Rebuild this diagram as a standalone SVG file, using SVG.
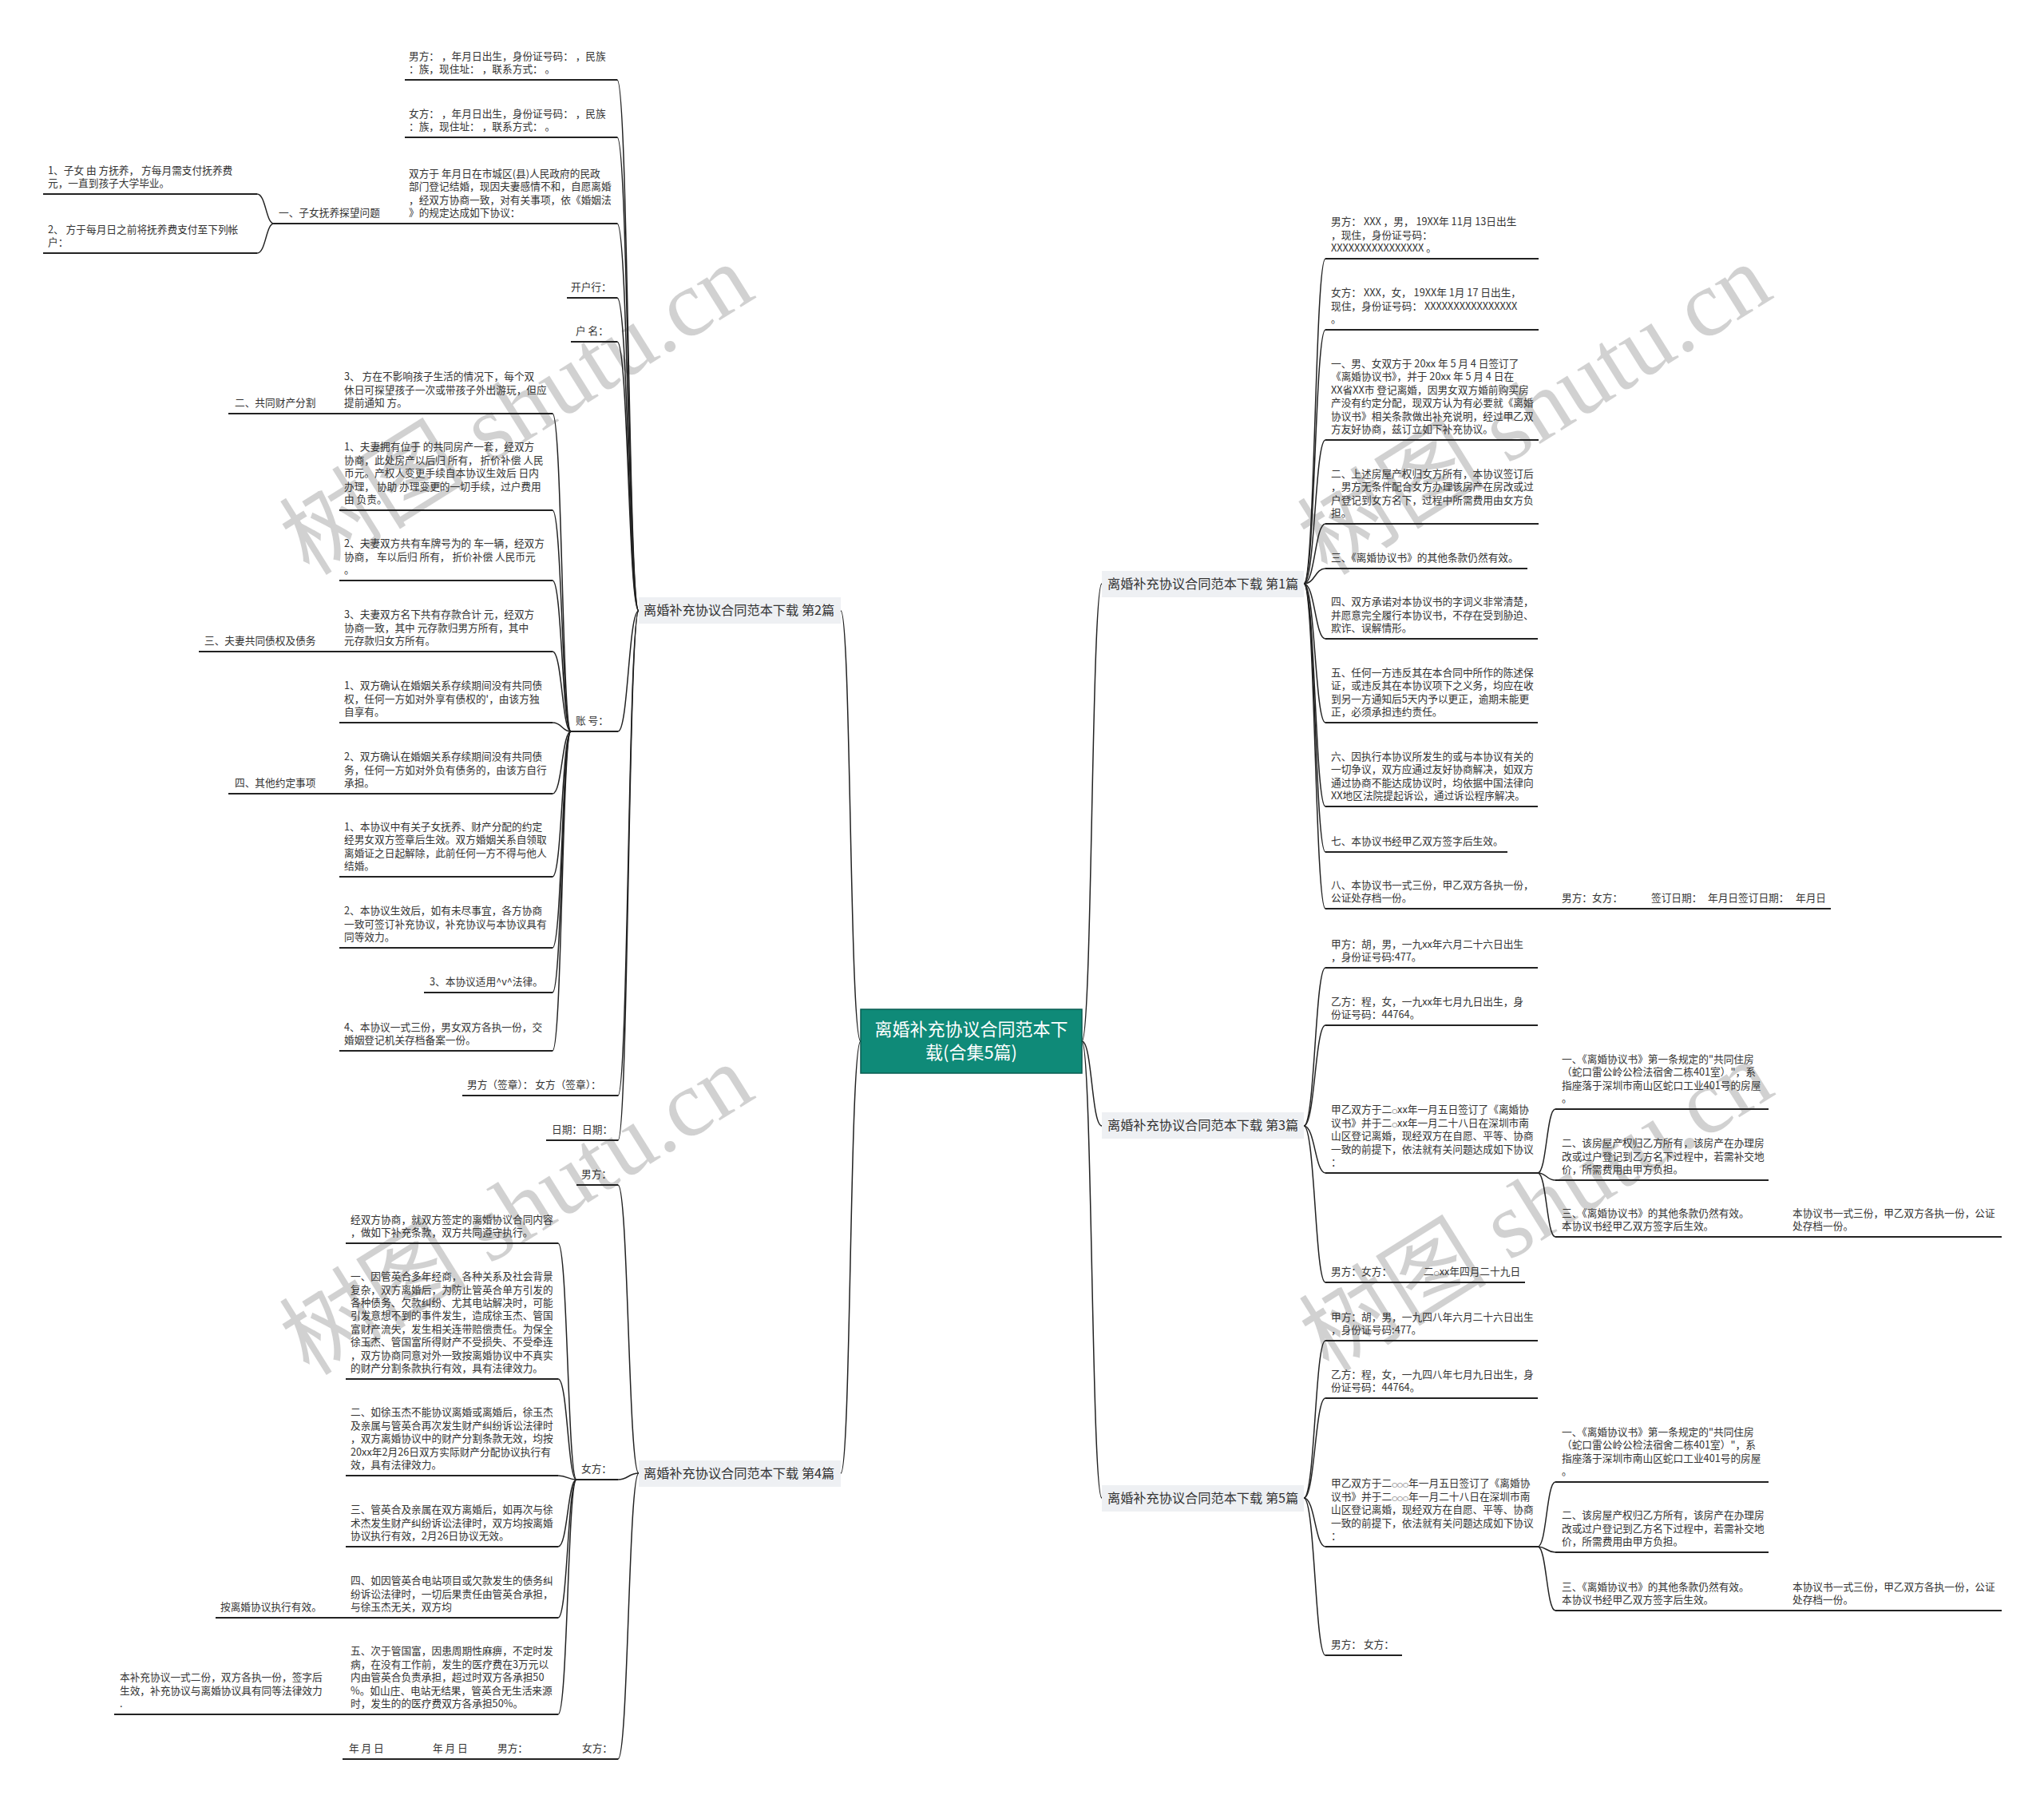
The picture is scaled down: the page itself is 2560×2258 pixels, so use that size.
<svg xmlns="http://www.w3.org/2000/svg" width="2560" height="2258" viewBox="0 0 2560 2258" xml:space="preserve">
<style>
.t{font-family:"Noto Sans CJK SC","Noto Sans",sans-serif;font-size:12.7px;fill:#333;}
.o{font-family:"DejaVu Sans",sans-serif;font-size:8px;}
.ul{stroke:#222;stroke-width:2;fill:none;}
.c{stroke:#222;stroke-width:1.5;fill:none;}
.lb{fill:#eef0f3;}
.lt{font-family:"Noto Sans CJK SC","Noto Sans",sans-serif;font-size:16.2px;fill:#333;}
.wm{font-family:"Liberation Serif","Noto Sans CJK SC",serif;font-size:118px;fill:#000;fill-opacity:0.18;}
</style>
<rect x="0" y="0" width="2560" height="2258" fill="#ffffff"/>
<g id="watermarks">
<text class="wm" x="647" y="553" text-anchor="middle" transform="rotate(-32 647 513)">树图 shutu.cn</text>
<text class="wm" x="1922" y="553" text-anchor="middle" transform="rotate(-32 1922 513)">树图 shutu.cn</text>
<text class="wm" x="647" y="1555" text-anchor="middle" transform="rotate(-32 647 1515)">树图 shutu.cn</text>
<text class="wm" x="1924" y="1551" text-anchor="middle" transform="rotate(-32 1924 1511)">树图 shutu.cn</text>
</g>
<g id="connectors">
<path class="c" d="M1078 1304 C1064 1304 1066 765 1053 765"/>
<path class="c" d="M1078 1304 C1064 1304 1066 1845 1053 1845"/>
<path class="c" d="M1355 1304 C1368 1304 1367 731 1380 731"/>
<path class="c" d="M1355 1304 C1368 1304 1367 1410 1380 1410"/>
<path class="c" d="M1355 1304 C1368 1304 1367 1876 1380 1876"/>
<path class="c" d="M773 100 C787 100 787 765 800 765"/>
<path class="c" d="M773 172 C787 172 787 765 800 765"/>
<path class="c" d="M773 280 C787 280 787 765 800 765"/>
<path class="c" d="M773 373 C787 373 787 765 800 765"/>
<path class="c" d="M773 428 C787 428 787 765 800 765"/>
<path class="c" d="M774 916 C787 916 787 765 800 765"/>
<path class="c" d="M774 1372 C787 1372 787 765 800 765"/>
<path class="c" d="M774 1428 C787 1428 787 765 800 765"/>
<path class="c" d="M322 243 C333 243 333 280 343 280"/>
<path class="c" d="M322 317 C333 317 333 280 343 280"/>
<path class="c" d="M692 518 C704 518 704 916 715 916"/>
<path class="c" d="M692 639 C704 639 704 916 715 916"/>
<path class="c" d="M692 727 C704 727 704 916 715 916"/>
<path class="c" d="M692 816 C704 816 704 916 715 916"/>
<path class="c" d="M692 905 C704 905 704 916 715 916"/>
<path class="c" d="M692 994 C704 994 704 916 715 916"/>
<path class="c" d="M692 1098 C704 1098 704 916 715 916"/>
<path class="c" d="M692 1187 C704 1187 704 916 715 916"/>
<path class="c" d="M692 1243 C704 1243 704 916 715 916"/>
<path class="c" d="M692 1316 C704 1316 704 916 715 916"/>
<path class="c" d="M774 1484 C787 1484 787 1845 800 1845"/>
<path class="c" d="M774 1853 C787 1853 787 1845 800 1845"/>
<path class="c" d="M774 2203 C787 2203 787 1845 800 1845"/>
<path class="c" d="M699 1557 C711 1557 711 1853 722 1853"/>
<path class="c" d="M699 1727 C711 1727 711 1853 722 1853"/>
<path class="c" d="M699 1848 C711 1848 711 1853 722 1853"/>
<path class="c" d="M699 1937 C711 1937 711 1853 722 1853"/>
<path class="c" d="M699 2026 C711 2026 711 1853 722 1853"/>
<path class="c" d="M699 2147 C711 2147 711 1853 722 1853"/>
<path class="c" d="M1633 731 C1647 731 1647 324 1660 324"/>
<path class="c" d="M1633 731 C1647 731 1647 413 1660 413"/>
<path class="c" d="M1633 731 C1647 731 1647 551 1660 551"/>
<path class="c" d="M1633 731 C1647 731 1647 656 1660 656"/>
<path class="c" d="M1633 731 C1647 731 1647 712 1660 712"/>
<path class="c" d="M1633 731 C1647 731 1647 800 1660 800"/>
<path class="c" d="M1633 731 C1647 731 1647 905 1660 905"/>
<path class="c" d="M1633 731 C1647 731 1647 1010 1660 1010"/>
<path class="c" d="M1633 731 C1647 731 1647 1067 1660 1067"/>
<path class="c" d="M1633 731 C1647 731 1647 1138 1660 1138"/>
<path class="c" d="M1633 1410 C1647 1410 1647 1212 1660 1212"/>
<path class="c" d="M1633 1410 C1647 1410 1647 1284 1660 1284"/>
<path class="c" d="M1633 1410 C1647 1410 1647 1469 1660 1469"/>
<path class="c" d="M1633 1410 C1647 1410 1647 1606 1660 1606"/>
<path class="c" d="M1926 1469 C1937 1469 1937 1389 1948 1389"/>
<path class="c" d="M1926 1469 C1937 1469 1937 1478 1948 1478"/>
<path class="c" d="M1926 1469 C1937 1469 1937 1549 1948 1549"/>
<path class="c" d="M1633 1876 C1647 1876 1647 1679 1660 1679"/>
<path class="c" d="M1633 1876 C1647 1876 1647 1751 1660 1751"/>
<path class="c" d="M1633 1876 C1647 1876 1647 1937 1660 1937"/>
<path class="c" d="M1633 1876 C1647 1876 1647 2073 1660 2073"/>
<path class="c" d="M1926 1937 C1937 1937 1937 1856 1948 1856"/>
<path class="c" d="M1926 1937 C1937 1937 1937 1944 1948 1944"/>
<path class="c" d="M1926 1937 C1937 1937 1937 2017 1948 2017"/>
</g>
<g id="root">
<rect x="1078" y="1264" width="277" height="80" fill="#0f8a78" stroke="#0a5c51" stroke-width="1.5"/>
<text x="1216.5" y="1297" text-anchor="middle" style="font-family:'Noto Sans CJK SC',sans-serif;font-size:22px;fill:#ffffff;">离婚补充协议合同范本下</text>
<text x="1216.5" y="1326" text-anchor="middle" style="font-family:'Noto Sans CJK SC',sans-serif;font-size:22px;fill:#ffffff;">载(合集5篇)</text>
</g>
<g id="branch2"><rect class="lb" x="800" y="748" width="253" height="33"/><text class="lt" x="806" y="770">离婚补充协议合同范本下载 第2篇</text></g>
<g id="branch4"><rect class="lb" x="800" y="1829" width="253" height="33"/><text class="lt" x="806" y="1851">离婚补充协议合同范本下载 第4篇</text></g>
<g id="branch1"><rect class="lb" x="1380" y="715" width="253" height="33"/><text class="lt" x="1387" y="737">离婚补充协议合同范本下载 第1篇</text></g>
<g id="branch3"><rect class="lb" x="1380" y="1393" width="253" height="33"/><text class="lt" x="1387" y="1415">离婚补充协议合同范本下载 第3篇</text></g>
<g id="branch5"><rect class="lb" x="1380" y="1860" width="253" height="33"/><text class="lt" x="1387" y="1882">离婚补充协议合同范本下载 第5篇</text></g>

<g id="a1"><path class="ul" d="M507 100H773"/><text class="t" x="512" y="74.6"><tspan x="512">男方：  ，年月日出生，身份证号码：  ，民族</tspan><tspan x="512" dy="16.4">：族，现住址：  ，联系方式：  。</tspan></text></g>
<g id="a2"><path class="ul" d="M507 172H773"/><text class="t" x="512" y="146.6"><tspan x="512">女方：  ，年月日出生，身份证号码：  ，民族</tspan><tspan x="512" dy="16.4">：族，现住址：  ，联系方式：  。</tspan></text></g>
<g id="a3"><path class="ul" d="M507 280H773"/><text class="t" x="512" y="221.8"><tspan x="512">双方于  年月日在市城区(县)人民政府的民政</tspan><tspan x="512" dy="16.4">部门登记结婚，现因夫妻感情不和，自愿离婚</tspan><tspan x="512" dy="16.4">，经双方协商一致，对有关事项，依《婚姻法</tspan><tspan x="512" dy="16.4">》的规定达成如下协议：</tspan></text></g>
<g id="a3a"><path class="ul" d="M343 280H507"/><text class="t" x="349" y="271">一、子女抚养探望问题</text></g>
<g id="a3a1"><path class="ul" d="M54 243H322"/><text class="t" x="60" y="217.6"><tspan x="60">1、子女  由  方抚养，  方每月需支付抚养费</tspan><tspan x="60" dy="16.4">元，一直到孩子大学毕业。</tspan></text></g>
<g id="a3a2"><path class="ul" d="M54 317H322"/><text class="t" x="60" y="291.6"><tspan x="60">2、  方于每月日之前将抚养费支付至下列帐</tspan><tspan x="60" dy="16.4">户：</tspan></text></g>
<g id="a4"><path class="ul" d="M710 373H773"/><text class="t" x="715" y="364">开户行：</text></g>
<g id="a5"><path class="ul" d="M715 428H773"/><text class="t" x="721" y="419">户  名：</text></g>
<g id="a6"><path class="ul" d="M715 916H774"/><text class="t" x="721" y="907">账  号：</text></g>
<g id="k1"><path class="ul" d="M425 518H692"/><text class="t" x="431" y="476.2"><tspan x="431">3、  方在不影响孩子生活的情况下，每个双</tspan><tspan x="431" dy="16.4">休日可探望孩子一次或带孩子外出游玩，但应</tspan><tspan x="431" dy="16.4">提前通知  方。</tspan></text></g>
<g id="k1a"><path class="ul" d="M286 518H425"/><text class="t" x="294" y="509">二、共同财产分割</text></g>
<g id="k2"><path class="ul" d="M425 639H692"/><text class="t" x="431" y="564.4"><tspan x="431">1、夫妻拥有位于  的共同房产一套，经双方</tspan><tspan x="431" dy="16.4">协商，此处房产以后归 所有，  折价补偿 人民</tspan><tspan x="431" dy="16.4">币元。产权人变更手续自本协议生效后  日内</tspan><tspan x="431" dy="16.4">办理，  协助 办理变更的一切手续，过户费用</tspan><tspan x="431" dy="16.4">由 负责。</tspan></text></g>
<g id="k3"><path class="ul" d="M425 727H692"/><text class="t" x="431" y="685.2"><tspan x="431">2、夫妻双方共有车牌号为的 车一辆，经双方</tspan><tspan x="431" dy="16.4">协商，  车以后归 所有，  折价补偿 人民币元</tspan><tspan x="431" dy="16.4">。</tspan></text></g>
<g id="k4"><path class="ul" d="M425 816H692"/><text class="t" x="431" y="774.2"><tspan x="431">3、夫妻双方名下共有存款合计  元，经双方</tspan><tspan x="431" dy="16.4">协商一致，其中  元存款归男方所有，其中</tspan><tspan x="431" dy="16.4">元存款归女方所有。</tspan></text></g>
<g id="k4a"><path class="ul" d="M249 816H425"/><text class="t" x="256" y="807">三、夫妻共同债权及债务</text></g>
<g id="k5"><path class="ul" d="M425 905H692"/><text class="t" x="431" y="863.2"><tspan x="431">1、双方确认在婚姻关系存续期间没有共同债</tspan><tspan x="431" dy="16.4">权，任何一方如对外享有债权的'，由该方独</tspan><tspan x="431" dy="16.4">自享有。</tspan></text></g>
<g id="k6"><path class="ul" d="M425 994H692"/><text class="t" x="431" y="952.2"><tspan x="431">2、双方确认在婚姻关系存续期间没有共同债</tspan><tspan x="431" dy="16.4">务，任何一方如对外负有债务的，由该方自行</tspan><tspan x="431" dy="16.4">承担。</tspan></text></g>
<g id="k6a"><path class="ul" d="M286 994H425"/><text class="t" x="294" y="985">四、其他约定事项</text></g>
<g id="k7"><path class="ul" d="M425 1098H692"/><text class="t" x="431" y="1039.8"><tspan x="431">1、本协议中有关子女抚养、财产分配的约定</tspan><tspan x="431" dy="16.4">经男女双方签章后生效。双方婚姻关系自领取</tspan><tspan x="431" dy="16.4">离婚证之日起解除，此前任何一方不得与他人</tspan><tspan x="431" dy="16.4">结婚。</tspan></text></g>
<g id="k8"><path class="ul" d="M425 1187H692"/><text class="t" x="431" y="1145.2"><tspan x="431">2、本协议生效后，如有未尽事宜，各方协商</tspan><tspan x="431" dy="16.4">一致可签订补充协议，补充协议与本协议具有</tspan><tspan x="431" dy="16.4">同等效力。</tspan></text></g>
<g id="k9"><path class="ul" d="M531 1243H692"/><text class="t" x="538" y="1234">3、本协议适用^v^法律。</text></g>
<g id="k10"><path class="ul" d="M425 1316H692"/><text class="t" x="431" y="1290.6"><tspan x="431">4、本协议一式三份，男女双方各执一份，交</tspan><tspan x="431" dy="16.4">婚姻登记机关存档备案一份。</tspan></text></g>
<g id="a7"><path class="ul" d="M579 1372H774"/><text class="t" x="585" y="1363">男方（签章）：  女方（签章）：</text></g>
<g id="a8"><path class="ul" d="M684 1428H774"/><text class="t" x="691" y="1419">日期：日期：</text></g>

<g id="b1"><path class="ul" d="M722 1484H774"/><text class="t" x="728" y="1475">男方：</text></g>
<g id="b2"><path class="ul" d="M722 1853H774"/><text class="t" x="728" y="1844">女方：</text></g>
<g id="m1"><path class="ul" d="M433 1557H699"/><text class="t" x="439" y="1531.6"><tspan x="439">经双方协商，就双方签定的离婚协议合同内容</tspan><tspan x="439" dy="16.4">，做如下补充条款，双方共同遵守执行。</tspan></text></g>
<g id="m2"><path class="ul" d="M433 1727H699"/><text class="t" x="439" y="1603.2"><tspan x="439">一、因管英合多年经商，各种关系及社会背景</tspan><tspan x="439" dy="16.4">复杂，双方离婚后，为防止管英合单方引发的</tspan><tspan x="439" dy="16.4">各种债务、欠款纠纷、尤其电站解决时，可能</tspan><tspan x="439" dy="16.4">引发意想不到的事件发生，造成徐玉杰、管国</tspan><tspan x="439" dy="16.4">富财产流失，发生相关连带赔偿责任。为保全</tspan><tspan x="439" dy="16.4">徐玉杰、管国富所得财产不受损失、不受牵连</tspan><tspan x="439" dy="16.4">，双方协商同意对外一致按离婚协议中不真实</tspan><tspan x="439" dy="16.4">的财产分割条款执行有效，具有法律效力。</tspan></text></g>
<g id="m3"><path class="ul" d="M433 1848H699"/><text class="t" x="439" y="1773.4"><tspan x="439">二、如徐玉杰不能协议离婚或离婚后，徐玉杰</tspan><tspan x="439" dy="16.4">及亲属与管英合再次发生财产纠纷诉讼法律时</tspan><tspan x="439" dy="16.4">，双方离婚协议中的财产分割条款无效，均按</tspan><tspan x="439" dy="16.4">20xx年2月26日双方实际财产分配协议执行有</tspan><tspan x="439" dy="16.4">效，具有法律效力。</tspan></text></g>
<g id="m4"><path class="ul" d="M433 1937H699"/><text class="t" x="439" y="1895.2"><tspan x="439">三、管英合及亲属在双方离婚后，如再次与徐</tspan><tspan x="439" dy="16.4">术杰发生财产纠纷诉讼法律时，双方均按离婚</tspan><tspan x="439" dy="16.4">协议执行有效，2月26日协议无效。</tspan></text></g>
<g id="m5"><path class="ul" d="M433 2026H699"/><text class="t" x="439" y="1984.2"><tspan x="439">四、如因管英合电站项目或欠款发生的债务纠</tspan><tspan x="439" dy="16.4">纷诉讼法律时，一切后果责任由管英合承担，</tspan><tspan x="439" dy="16.4">与徐玉杰无关，双方均</tspan></text></g>
<g id="m5a"><path class="ul" d="M270 2026H433"/><text class="t" x="276" y="2017">按离婚协议执行有效。</text></g>
<g id="m6"><path class="ul" d="M433 2147H699"/><text class="t" x="439" y="2072.4"><tspan x="439">五、次于管国富，因患周期性麻痹，不定时发</tspan><tspan x="439" dy="16.4">病，在没有工作前，发生的医疗费在3万元以</tspan><tspan x="439" dy="16.4">内由管英合负责承担，超过时双方各承担50</tspan><tspan x="439" dy="16.4">%。如山庄、电站无结果，管英合无生活来源</tspan><tspan x="439" dy="16.4">时，发生的的医疗费双方各承担50%。</tspan></text></g>
<g id="m6a"><path class="ul" d="M143 2147H433"/><text class="t" x="150" y="2105.2"><tspan x="150">本补充协议一式二份，双方各执一份，签字后</tspan><tspan x="150" dy="16.4">生效，补充协议与离婚协议具有同等法律效力</tspan><tspan x="150" dy="16.4">.</tspan></text></g>
<g id="b3"><path class="ul" d="M429 2203H774"/><text class="t" y="2194"><tspan x="437">年 月 日</tspan><tspan x="542">年 月 日</tspan><tspan x="623">男方：</tspan><tspan x="729">女方：</tspan></text></g>

<g id="c1"><path class="ul" d="M1660 324H1927"/><text class="t" x="1667" y="282.2"><tspan x="1667">男方： XXX ，男， 19XX年 11月 13日出生</tspan><tspan x="1667" dy="16.4">，现住，身份证号码：</tspan><tspan x="1667" dy="16.4">XXXXXXXXXXXXXXXX 。</tspan></text></g>
<g id="c2"><path class="ul" d="M1660 413H1927"/><text class="t" x="1667" y="371.2"><tspan x="1667">女方： XXX，女， 19XX年 1月 17 日出生，</tspan><tspan x="1667" dy="16.4">现住，身份证号码： XXXXXXXXXXXXXXXX</tspan><tspan x="1667" dy="16.4">。</tspan></text></g>
<g id="c3"><path class="ul" d="M1660 551H1927"/><text class="t" x="1667" y="460"><tspan x="1667">一、男、女双方于 20xx 年 5 月 4 日签订了</tspan><tspan x="1667" dy="16.4">《离婚协议书》，并于 20xx 年 5 月 4 日在</tspan><tspan x="1667" dy="16.4">XX省XX市 登记离婚，因男女双方婚前购买房</tspan><tspan x="1667" dy="16.4">产没有约定分配，现双方认为有必要就《离婚</tspan><tspan x="1667" dy="16.4">协议书》相关条款做出补充说明，经过甲乙双</tspan><tspan x="1667" dy="16.4">方友好协商，兹订立如下补充协议。</tspan></text></g>
<g id="c4"><path class="ul" d="M1660 656H1927"/><text class="t" x="1667" y="597.8"><tspan x="1667">二、上述房屋产权归女方所有，本协议签订后</tspan><tspan x="1667" dy="16.4">，男方无条件配合女方办理该房产在房改或过</tspan><tspan x="1667" dy="16.4">户登记到女方名下，过程中所需费用由女方负</tspan><tspan x="1667" dy="16.4">担。</tspan></text></g>
<g id="c5"><path class="ul" d="M1660 712H1913"/><text class="t" x="1667" y="703">三、《离婚协议书》的其他条款仍然有效。</text></g>
<g id="c6"><path class="ul" d="M1660 800H1926"/><text class="t" x="1667" y="758.2"><tspan x="1667">四、双方承诺对本协议书的字词义非常清楚，</tspan><tspan x="1667" dy="16.4">并愿意完全履行本协议书，不存在受到胁迫、</tspan><tspan x="1667" dy="16.4">欺诈、误解情形。</tspan></text></g>
<g id="c7"><path class="ul" d="M1660 905H1926"/><text class="t" x="1667" y="846.8"><tspan x="1667">五、任何一方违反其在本合同中所作的陈述保</tspan><tspan x="1667" dy="16.4">证，或违反其在本协议项下之义务，均应在收</tspan><tspan x="1667" dy="16.4">到另一方通知后5天内予以更正，逾期未能更</tspan><tspan x="1667" dy="16.4">正，必须承担违约责任。</tspan></text></g>
<g id="c8"><path class="ul" d="M1660 1010H1926"/><text class="t" x="1667" y="951.8"><tspan x="1667">六、因执行本协议所发生的或与本协议有关的</tspan><tspan x="1667" dy="16.4">一切争议，双方应通过友好协商解决，如双方</tspan><tspan x="1667" dy="16.4">通过协商不能达成协议时，均依据中国法律向</tspan><tspan x="1667" dy="16.4">XX地区法院提起诉讼，通过诉讼程序解决。</tspan></text></g>
<g id="c9"><path class="ul" d="M1660 1067H1888"/><text class="t" x="1667" y="1058">七、本协议书经甲乙双方签字后生效。</text></g>
<g id="c10"><path class="ul" d="M1660 1138H1950"/><text class="t" x="1667" y="1112.6"><tspan x="1667">八、本协议书一式三份，甲乙双方各执一份，</tspan><tspan x="1667" dy="16.4">公证处存档一份。</tspan></text></g>
<g id="c10a"><path class="ul" d="M1950 1138H2293"/><text class="t" y="1129"><tspan x="1956">男方：女方：</tspan><tspan x="2068">签订日期：</tspan><tspan x="2139">年月日签订日期：</tspan><tspan x="2249">年月日</tspan></text></g>

<g id="d1"><path class="ul" d="M1660 1212H1926"/><text class="t" x="1667" y="1186.6"><tspan x="1667">甲方：胡，男，一九xx年六月二十六日出生</tspan><tspan x="1667" dy="16.4">，身份证号码:477。</tspan></text></g>
<g id="d2"><path class="ul" d="M1660 1284H1926"/><text class="t" x="1667" y="1258.6"><tspan x="1667">乙方：程，女，一九xx年七月九日出生，身</tspan><tspan x="1667" dy="16.4">份证号码：44764。</tspan></text></g>
<g id="d3"><path class="ul" d="M1660 1469H1926"/><text class="t" x="1667" y="1394.4"><tspan x="1667">甲乙双方于二<tspan class="o">○</tspan>xx年一月五日签订了《离婚协</tspan><tspan x="1667" dy="16.4">议书》并于二<tspan class="o">○</tspan>xx年一月二十八日在深圳市南</tspan><tspan x="1667" dy="16.4">山区登记离婚，现经双方在自愿、平等、协商</tspan><tspan x="1667" dy="16.4">一致的前提下，依法就有关问题达成如下协议</tspan><tspan x="1667" dy="16.4">：</tspan></text></g>
<g id="d3a"><path class="ul" d="M1948 1389H2215"/><text class="t" x="1956" y="1330.8"><tspan x="1956">一、《离婚协议书》第一条规定的"共同住房</tspan><tspan x="1956" dy="16.4">（蛇口雷公岭公检法宿舍二栋401室）"，系</tspan><tspan x="1956" dy="16.4">指座落于深圳市南山区蛇口工业401号的房屋</tspan><tspan x="1956" dy="16.4">。</tspan></text></g>
<g id="d3b"><path class="ul" d="M1948 1478H2215"/><text class="t" x="1956" y="1436.2"><tspan x="1956">二、该房屋产权归乙方所有，该房产在办理房</tspan><tspan x="1956" dy="16.4">改或过户登记到乙方名下过程中，若需补交地</tspan><tspan x="1956" dy="16.4">价，所需费用由甲方负担。</tspan></text></g>
<g id="d3c"><path class="ul" d="M1948 1549H2238"/><text class="t" x="1956" y="1523.6"><tspan x="1956">三、《离婚协议书》的其他条款仍然有效。</tspan><tspan x="1956" dy="16.4">本协议书经甲乙双方签字后生效。</tspan></text></g>
<g id="d3c1"><path class="ul" d="M2238 1549H2507"/><text class="t" x="2245" y="1523.6"><tspan x="2245">本协议书一式三份，甲乙双方各执一份，公证</tspan><tspan x="2245" dy="16.4">处存档一份。</tspan></text></g>
<g id="d4"><path class="ul" d="M1660 1606H1910"/><text class="t" y="1597"><tspan x="1667">男方：女方：</tspan><tspan x="1783">二<tspan class="o">○</tspan>xx年四月二十九日</tspan></text></g>

<g id="e1"><path class="ul" d="M1660 1679H1926"/><text class="t" x="1667" y="1653.6"><tspan x="1667">甲方：胡，男，一九四八年六月二十六日出生</tspan><tspan x="1667" dy="16.4">，身份证号码:477。</tspan></text></g>
<g id="e2"><path class="ul" d="M1660 1751H1926"/><text class="t" x="1667" y="1725.6"><tspan x="1667">乙方：程，女，一九四八年七月九日出生，身</tspan><tspan x="1667" dy="16.4">份证号码：44764。</tspan></text></g>
<g id="e3"><path class="ul" d="M1660 1937H1926"/><text class="t" x="1667" y="1862.4"><tspan x="1667">甲乙双方于二<tspan class="o">○○○</tspan>年一月五日签订了《离婚协</tspan><tspan x="1667" dy="16.4">议书》并于二<tspan class="o">○○○</tspan>年一月二十八日在深圳市南</tspan><tspan x="1667" dy="16.4">山区登记离婚，现经双方在自愿、平等、协商</tspan><tspan x="1667" dy="16.4">一致的前提下，依法就有关问题达成如下协议</tspan><tspan x="1667" dy="16.4">：</tspan></text></g>
<g id="e3a"><path class="ul" d="M1948 1856H2215"/><text class="t" x="1956" y="1797.8"><tspan x="1956">一、《离婚协议书》第一条规定的"共同住房</tspan><tspan x="1956" dy="16.4">（蛇口雷公岭公检法宿舍二栋401室）"，系</tspan><tspan x="1956" dy="16.4">指座落于深圳市南山区蛇口工业401号的房屋</tspan><tspan x="1956" dy="16.4">。</tspan></text></g>
<g id="e3b"><path class="ul" d="M1948 1944H2215"/><text class="t" x="1956" y="1902.2"><tspan x="1956">二、该房屋产权归乙方所有，该房产在办理房</tspan><tspan x="1956" dy="16.4">改或过户登记到乙方名下过程中，若需补交地</tspan><tspan x="1956" dy="16.4">价，所需费用由甲方负担。</tspan></text></g>
<g id="e3c"><path class="ul" d="M1948 2017H2238"/><text class="t" x="1956" y="1991.6"><tspan x="1956">三、《离婚协议书》的其他条款仍然有效。</tspan><tspan x="1956" dy="16.4">本协议书经甲乙双方签字后生效。</tspan></text></g>
<g id="e3c1"><path class="ul" d="M2238 2017H2507"/><text class="t" x="2245" y="1991.6"><tspan x="2245">本协议书一式三份，甲乙双方各执一份，公证</tspan><tspan x="2245" dy="16.4">处存档一份。</tspan></text></g>
<g id="e4"><path class="ul" d="M1660 2073H1756"/><text class="t" x="1667" y="2064">男方：  女方：</text></g>
</svg>
